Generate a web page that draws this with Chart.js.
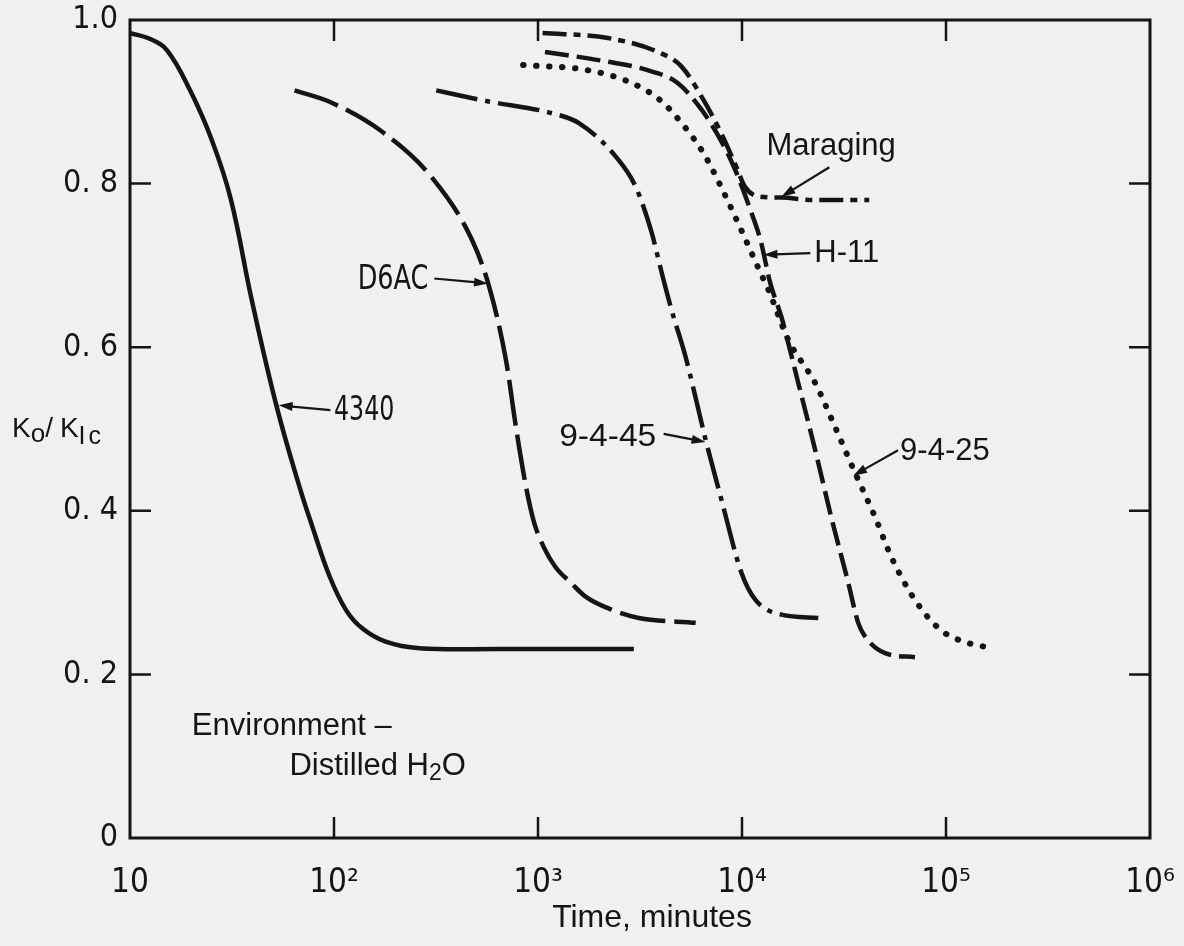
<!DOCTYPE html>
<html>
<head>
<meta charset="utf-8">
<title>Ko/KIc vs time</title>
<script src="https://cdn.jsdelivr.net/npm/chart.js@4.4.0/dist/chart.umd.min.js"></script>
<style>
  html, body { margin: 0; padding: 0; background: #f0f0ee; }
  #wrap { width: 1184px; height: 946px; }
</style>
</head>
<body>
<div id="wrap"><canvas id="k-chart" width="1184" height="946"></canvas></div>
<script>
(function () {
  'use strict';

  const INK = '#151515';
  const NARROW = "'Liberation Sans Narrow', 'DejaVu Sans Condensed', 'Arial Narrow', sans-serif";
  const WIDE = "'Liberation Sans', Arial, sans-serif";

  // axis ticks
  const xTickValues = [10, 1e2, 1e3, 1e4, 1e5, 1e6];
  const xTickLabels = ['10', '10²', '10³', '10⁴', '10⁵', '10⁶'];
  const yTickValues = [0, 0.2, 0.4, 0.6, 0.8, 1.0];
  const yTickLabels = ['0', '0. 2', '0. 4', '0. 6', '0. 8', '1.0'];

  // time (minutes) and Ko/KIc
  const time4340 = [10, 12.5, 15.2, 19.7, 25.2, 31.2, 39.5, 52.4, 67.8, 78.5, 95.1, 115, 138, 179, 262, 644, 2950];
  const ratio4340 = [0.984, 0.977, 0.963, 0.914, 0.853, 0.781, 0.658, 0.527, 0.429, 0.380, 0.320, 0.278, 0.256, 0.240, 0.232, 0.231, 0.231];

  const timeD6AC = [64.1, 95.1, 173, 303, 475, 576, 697, 780, 874, 956, 1070, 1220, 1450, 1710, 2300, 3120, 5930];
  const ratioD6AC = [0.914, 0.900, 0.863, 0.807, 0.731, 0.674, 0.584, 0.502, 0.429, 0.386, 0.355, 0.331, 0.312, 0.295, 0.279, 0.269, 0.263];

  const time9445 = [317, 557, 1171, 1587, 2406, 3014, 3608, 4040, 4522, 5293, 6125, 6631, 7940, 9945, 11640, 15600, 23660];
  const ratio9445 = [0.914, 0.901, 0.886, 0.874, 0.833, 0.796, 0.740, 0.691, 0.645, 0.588, 0.523, 0.487, 0.413, 0.324, 0.291, 0.273, 0.269];

  const timeMaraging = [1053, 2199, 3950, 5058, 6483, 7894, 9400, 10340, 12320, 15700, 22130, 42030];
  const ratioMaraging = [0.984, 0.978, 0.960, 0.943, 0.902, 0.862, 0.820, 0.796, 0.784, 0.783, 0.780, 0.780];

  const timeH11 = [1082, 2199, 3413, 4836, 6176, 7506, 9146, 10880, 12320, 13770, 15600, 18880, 22860, 27400, 33180, 37120, 40180, 50310, 70470];
  const ratioH11 = [0.961, 0.949, 0.939, 0.923, 0.894, 0.862, 0.820, 0.771, 0.731, 0.678, 0.637, 0.556, 0.474, 0.392, 0.312, 0.263, 0.246, 0.226, 0.221];

  const time9425 = [845, 1717, 2818, 3972, 5058, 6483, 7894, 10055, 12320, 13480, 16870, 22860, 28640, 35890, 44980, 53830, 70470, 94540, 130000, 173600];
  const ratio9425 = [0.945, 0.939, 0.924, 0.902, 0.874, 0.837, 0.796, 0.740, 0.691, 0.670, 0.609, 0.556, 0.502, 0.446, 0.392, 0.344, 0.291, 0.254, 0.238, 0.232];

  // curve labels with their arrows (positions in data units)
  const callouts = [
    { text: '4340', font: '33px ' + NARROW, squeeze: 0.8, align: 'left', at: [100, 0.522], tail: [96, 0.523], head: [53.5, 0.529] },
    { text: 'D6AC', font: '33px ' + NARROW, squeeze: 0.86, align: 'right', at: [290, 0.682], tail: [310, 0.684], head: [569, 0.678] },
    { text: '9-4-45', font: '32px ' + WIDE, squeeze: 1.05, align: 'right', at: [3800, 0.490], tail: [4130, 0.494], head: [6630, 0.484] },
    { text: 'Maraging', font: '31px ' + WIDE, squeeze: 1, align: 'left', at: [13190, 0.846], tail: [26800, 0.820], head: [15600, 0.784] },
    { text: 'H-11', font: '31px ' + WIDE, squeeze: 1, align: 'left', at: [22620, 0.715], tail: [21630, 0.715], head: [12740, 0.713] },
    { text: '9-4-25', font: '31px ' + WIDE, squeeze: 1, align: 'left', at: [59570, 0.472], tail: [58200, 0.474], head: [35060, 0.443] }
  ];

  function pts(xs, ys) {
    return xs.map(function (x, i) { return { x: x, y: ys[i] }; });
  }

  function curve(xs, ys, dash, width, cap) {
    return {
      data: pts(xs, ys),
      borderColor: INK,
      borderWidth: width || 4.5,
      borderDash: dash,
      borderCapStyle: cap || 'butt',
      pointRadius: 0,
      fill: false,
      cubicInterpolationMode: 'monotone'
    };
  }

  function runs(ctx, x, y, parts) {
    let cx = x;
    parts.forEach(function (p) {
      ctx.font = p.font;
      ctx.fillText(p.t, cx, y + (p.dy || 0));
      cx += ctx.measureText(p.t).width + (p.gap || 0);
    });
  }

  function arrow(ctx, x1, y1, x2, y2) {
    const a = Math.atan2(y2 - y1, x2 - x1);
    const len = 14, half = 4.5;
    ctx.beginPath();
    ctx.moveTo(x1, y1);
    ctx.lineTo(x2 - Math.cos(a) * len * 0.8, y2 - Math.sin(a) * len * 0.8);
    ctx.stroke();
    ctx.beginPath();
    ctx.moveTo(x2, y2);
    ctx.lineTo(x2 - Math.cos(a) * len - Math.sin(a) * half, y2 - Math.sin(a) * len + Math.cos(a) * half);
    ctx.lineTo(x2 - Math.cos(a) * len + Math.sin(a) * half, y2 - Math.sin(a) * len - Math.cos(a) * half);
    ctx.closePath();
    ctx.fill();
  }

  const paper = {
    id: 'paper',
    beforeDraw: function (chart) {
      const ctx = chart.ctx;
      ctx.save();
      ctx.fillStyle = '#f0f0ee';
      ctx.fillRect(0, 0, chart.width, chart.height);
      ctx.restore();
    },
    afterDraw: function (chart) {
      const ctx = chart.ctx;
      const area = chart.chartArea;
      const xs = chart.scales.x;
      const ys = chart.scales.y;
      const tick = 21;

      ctx.save();
      ctx.strokeStyle = INK;
      ctx.fillStyle = INK;

      // frame
      ctx.lineWidth = 3;
      ctx.strokeRect(area.left, area.top, area.right - area.left, area.bottom - area.top);

      // inward tick marks on all four sides
      ctx.lineWidth = 2.5;
      ctx.beginPath();
      xTickValues.slice(1, -1).forEach(function (v) {
        const px = xs.getPixelForValue(v);
        ctx.moveTo(px, area.bottom); ctx.lineTo(px, area.bottom - tick);
        ctx.moveTo(px, area.top); ctx.lineTo(px, area.top + tick);
      });
      yTickValues.slice(1, -1).forEach(function (v) {
        const py = ys.getPixelForValue(v);
        ctx.moveTo(area.left, py); ctx.lineTo(area.left + tick, py);
        ctx.moveTo(area.right, py); ctx.lineTo(area.right - tick, py);
      });
      ctx.stroke();

      // curve labels
      ctx.lineWidth = 2.2;
      ctx.textBaseline = 'middle';
      callouts.forEach(function (c) {
        const tx = xs.getPixelForValue(c.at[0]);
        const ty = ys.getPixelForValue(c.at[1]);
        ctx.save();
        ctx.font = c.font;
        ctx.textAlign = c.align;
        ctx.translate(tx, ty);
        ctx.scale(c.squeeze, 1);
        ctx.fillText(c.text, 0, 0);
        ctx.restore();
        arrow(ctx,
          xs.getPixelForValue(c.tail[0]), ys.getPixelForValue(c.tail[1]),
          xs.getPixelForValue(c.head[0]), ys.getPixelForValue(c.head[1]));
      });

      // environment note
      ctx.textAlign = 'left';
      const big = '31px ' + WIDE;
      const sub = '23px ' + WIDE;
      runs(ctx, xs.getPixelForValue(20.1), ys.getPixelForValue(0.136), [{ t: 'Environment \u2013', font: big }]);
      runs(ctx, xs.getPixelForValue(60.5), ys.getPixelForValue(0.088), [
        { t: 'Distilled H', font: big },
        { t: '2', font: sub, dy: 8 },
        { t: 'O', font: big }
      ]);

      // y axis title Ko/KIc
      const yk = '28px ' + WIDE;
      const midY = (area.top + area.bottom) / 2;
      runs(ctx, 12, midY, [
        { t: 'K', font: yk },
        { t: 'o', font: '26px ' + WIDE, dy: 6 },
        { t: '/', font: yk, gap: 7 },
        { t: 'K', font: yk },
        { t: 'I', font: '25px ' + WIDE, dy: 8, gap: 3 },
        { t: 'c', font: '25px ' + WIDE, dy: 8 }
      ]);

      // x axis title
      ctx.textAlign = 'center';
      ctx.font = '32px ' + WIDE;
      ctx.fillText('Time, minutes', (area.left + area.right) / 2 + 12, 918);

      ctx.restore();
    }
  };

  const solid4340 = curve(time4340, ratio4340, [], 4.5);
  solid4340.cubicInterpolationMode = 'default';
  solid4340.tension = 0.4;

  const canvas = document.getElementById('k-chart');
  if (canvas && window.Chart) {
    new Chart(canvas, {
      type: 'line',
      data: {
        datasets: [
          solid4340,
          curve(timeD6AC, ratioD6AC, [46, 9], 4.5),
          curve(time9445, ratio9445, [42, 8, 5, 8], 4.5),
          curve(timeMaraging, ratioMaraging, [24, 7, 7, 7], 4.5),
          curve(timeH11, ratioH11, [24, 8], 4.5),
          curve(time9425, ratio9425, [0.5, 12.5], 6, 'round')
        ]
      },
      options: {
        responsive: false,
        animation: false,
        events: [],
        layout: { padding: { left: 0, right: 34, top: 20, bottom: 0 } },
        plugins: {
          legend: { display: false },
          tooltip: { enabled: false }
        },
        scales: {
          x: {
            type: 'logarithmic',
            min: 10,
            max: 1e6,
            grid: { display: false, drawTicks: false },
            border: { display: false },
            afterBuildTicks: function (scale) {
              scale.ticks = xTickValues.map(function (v) { return { value: v }; });
            },
            afterFit: function (scale) {
              scale.height = 108;
              scale.paddingLeft = 0;
              scale.paddingRight = 0;
            },
            ticks: {
              autoSkip: false,
              maxRotation: 0,
              padding: 26,
              color: INK,
              font: { family: NARROW, size: 33 },
              callback: function (v) { return xTickLabels[xTickValues.indexOf(v)]; }
            }
          },
          y: {
            min: 0,
            max: 1,
            grid: { display: false, drawTicks: false },
            border: { display: false },
            afterBuildTicks: function (scale) {
              scale.ticks = yTickValues.map(function (v) { return { value: v }; });
            },
            afterFit: function (scale) {
              scale.width = 130;
              scale.paddingTop = 0;
              scale.paddingBottom = 0;
            },
            ticks: {
              padding: 12,
              color: INK,
              font: { family: NARROW, size: 32 },
              callback: function (v) { return yTickLabels[yTickValues.indexOf(v)]; }
            }
          }
        }
      },
      plugins: [paper]
    });
  }
})();
</script>
</body>
</html>
